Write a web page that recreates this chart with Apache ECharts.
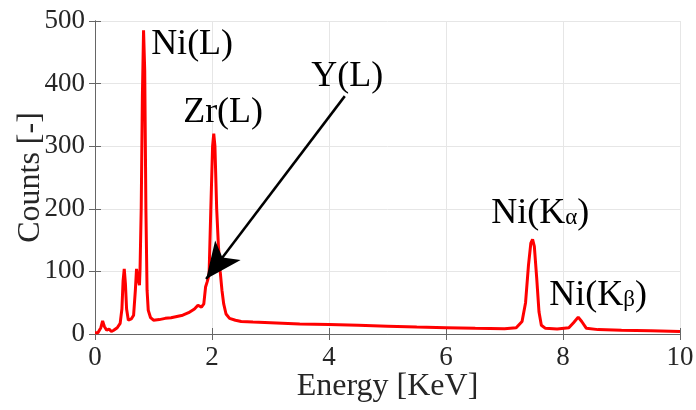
<!DOCTYPE html>
<html>
<head>
<meta charset="utf-8">
<script src="https://cdn.jsdelivr.net/npm/echarts@6/dist/echarts.min.js"></script>
<style>html,body{margin:0;padding:0;background:#fff}#chart{width:696px;height:410px}</style>
</head>
<body>
<div id="chart"></div>
<script>
// EDS spectrum: energy (keV) and counts
const energy = [0,0.05,0.1,0.13,0.16,0.2,0.24,0.28,0.32,0.38,0.43,0.46,0.48,0.5,0.52,0.54,0.57,0.62,0.66,0.69,0.71,0.73,0.76,0.77,0.79,0.81,0.83,0.85,0.87,0.89,0.91,0.95,1.0,1.1,1.2,1.3,1.4,1.5,1.6,1.7,1.76,1.79,1.82,1.86,1.89,1.92,1.95,1.98,2.01,2.03,2.05,2.08,2.11,2.14,2.17,2.2,2.24,2.3,2.4,2.5,2.7,3.0,3.5,4.0,4.5,5.0,5.5,6.0,6.5,7.0,7.2,7.3,7.36,7.41,7.45,7.48,7.51,7.55,7.59,7.63,7.7,7.9,8.1,8.18,8.26,8.32,8.4,8.6,9.0,9.5,10];
const counts = [2,2,10,21,12,6,8,4,6,10,17,40,85,104,80,40,22,24,30,70,104,90,78,104,200,380,485,420,200,70,38,26,22,23,25,26,28,30,34,40,46,48,43,48,75,84,95,200,300,320,300,200,140,100,70,48,32,25,22,20,19,18,16,15,14,12.5,11,10,9,8.5,10,20,50,110,145,151,140,90,35,14,9,8,10,18,27,20,9,7,6,5,4];

// peak annotations: [text, energy, counts]
const peakLabels = [
  ['Ni(L)', 1.66, 462],
  ['Zr(L)', 2.19, 353],
  ['Y(L)', 4.31, 412],
  ['Ni(K{s|α})', 7.61, 193],
  ['Ni(K{s|β})', 8.6, 62]
];
// arrow pointing at the Y(L) shoulder: [from, to]
const arrowFrom = [4.27, 380];
const arrowTo = [1.9, 88];

const xTicks = { min: 0, max: 10, interval: 2 };
const yTicks = { min: 0, max: 500, interval: 100 };

const FONT = '"Liberation Serif", "Times New Roman", serif';
const axisGray = '#666';
const gridGray = '#e6e6e6';

const chart = echarts.init(document.getElementById('chart'), null, { renderer: 'canvas' });

const boxAxis = {
  axisLine: { show: true, lineStyle: { color: axisGray, width: 1 } },
  axisTick: { show: true, inside: true, length: 6, lineStyle: { color: axisGray } },
  axisLabel: { show: false },
  splitLine: { show: false }
};

chart.setOption({
  animation: false,
  backgroundColor: '#fff',
  grid: { left: 95, right: 16, top: 21, bottom: 76, containLabel: false, outerBoundsMode: 'none' },
  xAxis: [{
    type: 'value', min: xTicks.min, max: xTicks.max, interval: xTicks.interval,
    name: 'Energy [KeV]', nameLocation: 'middle', nameGap: 37, nameMoveOverlap: false,
    nameTextStyle: { fontFamily: FONT, fontSize: 32, color: '#262626' },
    axisLine: { show: true, lineStyle: { color: axisGray, width: 1 } },
    axisTick: { show: true, inside: true, length: 6, lineStyle: { color: axisGray } },
    axisLabel: { fontFamily: FONT, fontSize: 27, color: '#262626', margin: 10 },
    splitLine: { show: true, lineStyle: { color: gridGray, width: 1 } }
  }, Object.assign({ type: 'value', position: 'top', min: xTicks.min, max: xTicks.max, interval: xTicks.interval }, boxAxis)],
  yAxis: [{
    type: 'value', min: yTicks.min, max: yTicks.max, interval: yTicks.interval,
    name: 'Counts [-]', nameLocation: 'middle', nameGap: 48, nameRotate: 90, nameMoveOverlap: false,
    nameTextStyle: { fontFamily: FONT, fontSize: 32, color: '#262626' },
    axisLine: { show: true, lineStyle: { color: axisGray, width: 1 } },
    axisTick: { show: true, inside: true, length: 6, lineStyle: { color: axisGray } },
    axisLabel: { fontFamily: FONT, fontSize: 27, color: '#262626', margin: 10 },
    splitLine: { show: true, lineStyle: { color: gridGray, width: 1 } }
  }, Object.assign({ type: 'value', position: 'right', min: yTicks.min, max: yTicks.max, interval: yTicks.interval }, boxAxis)],
  series: [{
    type: 'line',
    data: energy.map((e, i) => [e, counts[i]]),
    showSymbol: false,
    lineStyle: { color: '#ff0000', width: 3 },
    itemStyle: { color: '#ff0000' },
    z: 3,
    markPoint: {
      symbol: 'circle', symbolSize: 1,
      itemStyle: { color: 'rgba(0,0,0,0)' },
      label: {
        show: true, position: 'inside',
        fontFamily: FONT, fontSize: 36, color: '#000',
        formatter: p => p.name,
        rich: { s: { fontFamily: FONT, fontSize: 23, color: '#000', padding: [10, 0, 0, 0] } }
      },
      data: peakLabels.map(l => ({ name: l[0], coord: [l[1], l[2]] }))
    },
    markLine: {
      silent: true,
      symbol: ['none', 'arrow'],
      symbolSize: [24, 36],
      label: { show: false },
      lineStyle: { color: '#000', width: 2.5, type: 'solid' },
      data: [[{ coord: arrowFrom }, { coord: arrowTo }]]
    }
  }]
});
</script>
</body>
</html>
